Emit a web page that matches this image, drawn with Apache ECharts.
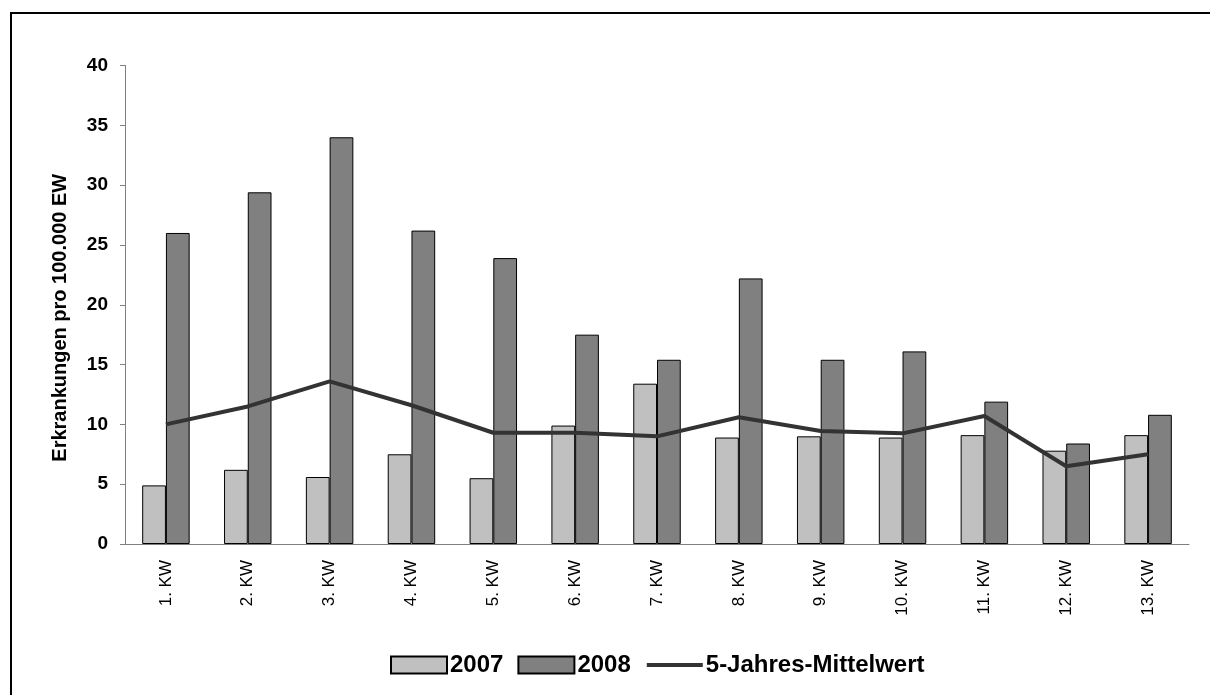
<!DOCTYPE html>
<html>
<head>
<meta charset="utf-8">
<script src="https://cdn.jsdelivr.net/npm/echarts@6/dist/echarts.min.js"></script>
<style>
  html, body { margin: 0; padding: 0; background: #fff; }
  #chart { width: 1210px; height: 695px; }
</style>
</head>
<body>
<div id="chart"></div>
<script>
// Kalenderwochen
var weeks = ["1. KW","2. KW","3. KW","4. KW","5. KW","6. KW","7. KW","8. KW","9. KW","10. KW","11. KW","12. KW","13. KW"];
var y2007 = [4.9, 6.2, 5.6, 7.5, 5.5, 9.9, 13.4, 8.9, 9.0, 8.9, 9.1, 7.8, 9.1];
var y2008 = [26.0, 29.4, 34.0, 26.2, 23.9, 17.5, 15.4, 22.2, 15.4, 16.1, 11.9, 8.4, 10.8];
var mittel = [10.0, 11.5, 13.6, 11.6, 9.3, 9.3, 9.0, 10.6, 9.45, 9.25, 10.7, 6.5, 7.5];
var yTicks = {min: 0, max: 40, step: 5};

var font = '"Liberation Sans", Arial, sans-serif';
var chart = echarts.init(document.getElementById("chart"));

chart.setOption({
  animation: false,
  backgroundColor: "#fff",
  graphic: [{
    type: "rect",
    shape: {x: 11, y: 13, width: 1400, height: 900},
    style: {fill: "none", stroke: "#000", lineWidth: 2},
    z: -1
  }],
  grid: {left: 125, right: 21, top: 65.5, bottom: 151},
  legend: {
    left: 385,
    top: 648,
    itemWidth: 56,
    itemHeight: 17,
    itemGap: 14,
    textStyle: {fontFamily: font, fontSize: 24, fontWeight: "bold", color: "#000", padding: [0, 0, 0, -2]},
    data: [
      {name: "2007", icon: "rect"},
      {name: "2008", icon: "rect"},
      {name: "5-Jahres-Mittelwert", itemStyle: {opacity: 0}, lineStyle: {width: 4, color: "#333333"}}
    ]
  },
  xAxis: {
    type: "category",
    data: weeks,
    axisLine: {lineStyle: {color: "#808080", width: 1}},
    axisTick: {length: 5, lineStyle: {color: "#808080"}},
    axisLabel: {rotate: 90, margin: 16, fontFamily: font, fontSize: 17, color: "#000"}
  },
  yAxis: {
    type: "value",
    min: yTicks.min,
    max: yTicks.max,
    interval: yTicks.step,
    name: "Erkrankungen pro 100.000 EW",
    nameLocation: "middle",
    nameRotate: 90,
    nameGap: 55,
    nameTextStyle: {fontFamily: font, fontSize: 20, fontWeight: "bold", color: "#000", padding: [0, 26, 0, 0]},
    splitLine: {show: false},
    axisLine: {show: true, lineStyle: {color: "#808080", width: 1}},
    axisTick: {show: true, length: 5, lineStyle: {color: "#808080"}},
    axisLabel: {margin: 17, fontFamily: font, fontSize: 19, fontWeight: "bold", color: "#000"}
  },
  series: [
    {
      name: "2007",
      type: "bar",
      data: y2007,
      barGap: "0%",
      barCategoryGap: "42%",
      itemStyle: {color: "#C0C0C0", borderColor: "#000", borderWidth: 1}
    },
    {
      name: "2008",
      type: "bar",
      data: y2008,
      itemStyle: {color: "#808080", borderColor: "#000", borderWidth: 1}
    },
    {
      name: "5-Jahres-Mittelwert",
      type: "line",
      data: mittel,
      symbol: "none",
      z: 5,
      itemStyle: {color: "#333333"},
      lineStyle: {color: "#333333", width: 4}
    }
  ]
});
</script>
</body>
</html>
